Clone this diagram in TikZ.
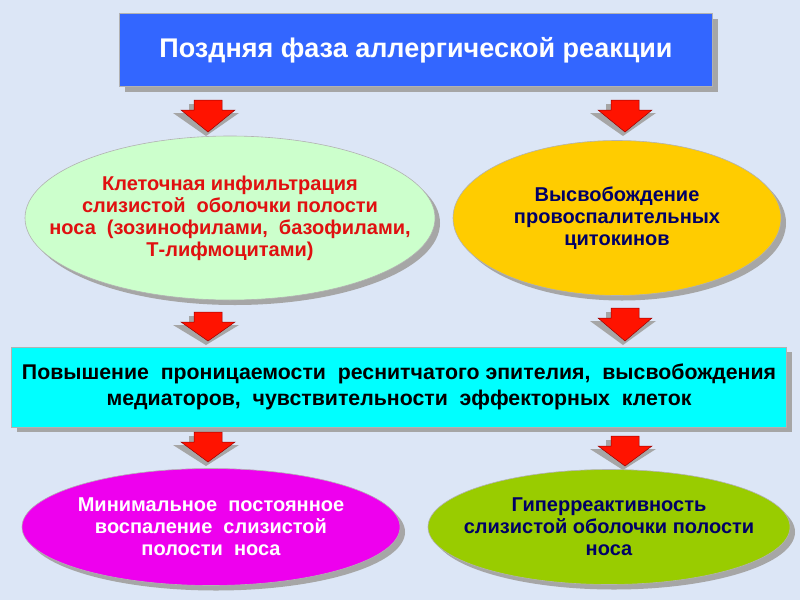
\documentclass[tikz,border=0pt]{standalone}
\usepackage{fontspec}
\setmainfont{Liberation Sans}
\usetikzlibrary{shapes.geometric,shadows}
\definecolor{bg}{HTML}{DCE6F6}
\definecolor{tblue}{HTML}{3366FF}
\definecolor{lgreen}{HTML}{CCFFCC}
\definecolor{yel}{HTML}{FFCC00}
\definecolor{mag}{HTML}{EE00EE}
\definecolor{olive}{HTML}{99CC00}
\definecolor{dblue}{HTML}{000066}
\definecolor{redt}{HTML}{E01010}
\definecolor{cy}{HTML}{00FFFF}
\tikzset{
 sh/.style={drop shadow={shadow xshift=5pt,shadow yshift=-5pt,fill=gray!70,opacity=1}},
 box/.style={draw=gray!60,line width=0.6pt,sh,font=\bfseries,align=center,inner sep=0},
 ell/.style={ellipse,draw=gray!60,line width=0.6pt,sh,inner sep=0},
 etext/.style={font=\bfseries\fontsize{20}{22}\selectfont,align=center,inner sep=0},
 arr/.style={fill=red!85!orange,draw=red!60!black,line width=0.5pt}
}
\newcommand{\darrow}[3]{% x, ytop, ybottom
 \fill[gray!70] (#1-19,#2+4) -- (#1+11,#2+4) -- (#1+11,#2+13) -- (#1+31,#2+13) -- (#1-2,#3+4) -- (#1-35,#2+13) -- (#1-19,#2+13) -- cycle;
 \draw[arr] (#1-14,#2) -- (#1+14,#2) -- (#1+14,#2+10) -- (#1+27,#2+10) -- (#1,#3) -- (#1-27,#2+10) -- (#1-14,#2+10) -- cycle;}
\begin{document}
\begin{tikzpicture}[x=1pt,y=-1pt]
\fill[bg] (0,0) rectangle (800,600);
\useasboundingbox (0,0) rectangle (800,600);
\node[box,fill=tblue,text=white,minimum width=593pt,minimum height=73pt,font=\bfseries\fontsize{27}{30}\selectfont] (t) at (416,50) {Поздняя фаза аллергической реакции};
\darrow{208}{100}{132}
\darrow{625}{100}{132}
\node[ell,fill=lgreen,minimum width=410pt,minimum height=164pt] (a) at (230,218) {};
\node[etext,text=redt] (at) at (a.center) {Клеточная инфильтрация\\слизистой~ оболочки полости\\носа~ (зозинофилами,~ базофилами,\\Т-лифмоцитами)};
\node[ell,fill=yel,minimum width=328pt,minimum height=155pt] (b) at (617,218) {};
\node[etext,text=dblue] (bt) at (b.center) {Высвобождение\\провоспалительных\\цитокинов};
\darrow{208}{312}{341}
\darrow{625}{308}{341}
\node[box,fill=cy,text=black,minimum width=775pt,minimum height=80pt,font=\bfseries\fontsize{21.3}{26}\selectfont] (c) at (399,387) {Повышение~ проницаемости~ реснитчатого эпителия,~ высвобождения\\медиаторов,~ чувствительности~ эффекторных~ клеток};
\darrow{208}{432}{462}
\darrow{625}{436}{466}
\node[ell,fill=mag,minimum width=378pt,minimum height=117pt] (d) at (211,527) {};
\node[etext,text=white] (dt) at (d.center) {Минимальное~ постоянное\\воспаление~ слизистой\\полости~ носа};
\node[ell,fill=olive,minimum width=362pt,minimum height=115pt] (e) at (609,527) {};
\node[etext,text=dblue] (et) at (e.center) {Гиперреактивность\\слизистой оболочки полости\\носа};
\end{tikzpicture}
\end{document}
